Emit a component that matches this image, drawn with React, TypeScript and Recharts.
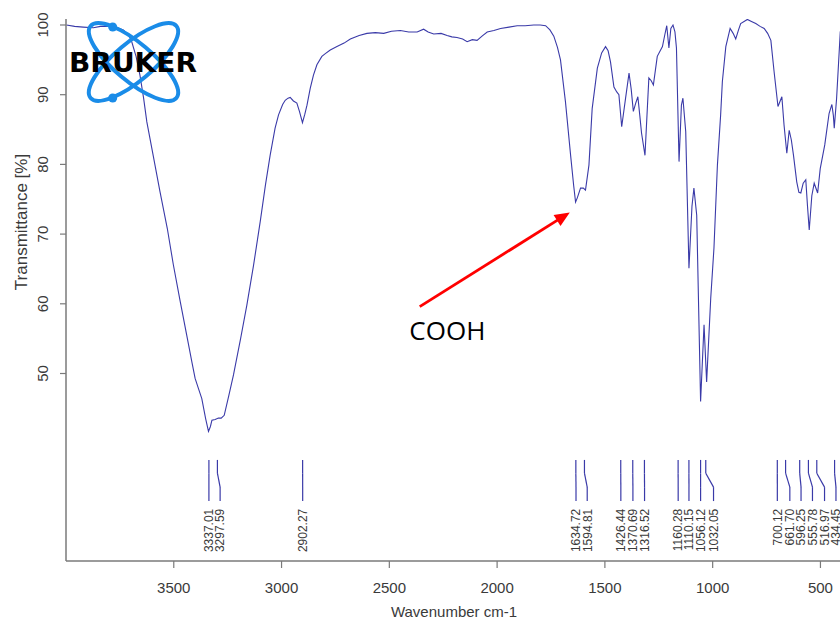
import React from 'react';
import { LineChart, Line, XAxis, YAxis, ReferenceLine, ReferenceDot } from 'recharts';

// spectrum, wavenumber (cm-1) descending
const wavenumbers = [
  3998, 3960, 3920, 3873, 3840, 3796, 3760, 3734, 3710, 3695, 3675, 3657, 3640, 3625, 3595, 3564,
  3530, 3502, 3470, 3440, 3415, 3401, 3385, 3370, 3352, 3339, 3330, 3323, 3308, 3293, 3280, 3266,
  3245, 3223, 3190, 3161, 3130, 3099, 3075, 3053, 3030, 3014, 2995, 2983, 2970, 2960, 2945, 2929,
  2917, 2903, 2892, 2882, 2867, 2852, 2836, 2813, 2797, 2774, 2743, 2710, 2681, 2640, 2604, 2565,
  2526, 2490, 2449, 2410, 2371, 2341, 2320, 2294, 2260, 2232, 2210, 2186, 2160, 2139, 2115, 2093,
  2070, 2046, 2015, 1984, 1945, 1907, 1870, 1830, 1800, 1775, 1755, 1737, 1720, 1706, 1683, 1659,
  1645, 1636, 1628, 1613, 1600, 1590, 1574, 1559, 1535, 1515, 1497, 1485, 1474, 1458, 1445, 1435,
  1422, 1404, 1388, 1378, 1368, 1357, 1347, 1338, 1330, 1314, 1296, 1285, 1275, 1257, 1233, 1222,
  1213, 1203, 1194, 1184, 1175, 1168, 1156, 1145, 1138, 1125, 1110, 1096, 1087, 1074, 1056, 1040,
  1028, 1009, 994, 978, 963, 955, 939, 919, 905, 893, 880, 870, 839, 820, 800, 780,
  761, 745, 730, 715, 697, 679, 669, 656, 645, 635, 625, 610, 600, 591, 580, 568,
  560, 552, 540, 529, 513, 501, 480, 460, 447, 440, 436, 425, 416, 408, 400,
];
const transmittance = [
  100.0, 99.8, 99.7, 99.6, 99.8, 99.8, 99.6, 99.3, 98.6, 97.6, 95.5, 92.8, 89.5, 86.1, 81.2, 76.1,
  70.8, 65.6, 60.3, 55.5, 51.5, 49.3, 47.8, 46.4, 43.5, 41.7, 42.4, 43.3, 43.4, 43.6, 43.6, 44.0,
  46.8, 49.8, 55.0, 59.8, 65.5, 71.8, 77.0, 81.3, 85.2, 87.1, 88.6, 89.2, 89.5, 89.6, 89.1, 88.8,
  87.6, 86.0, 87.2, 88.5, 90.9, 92.8, 94.3, 95.5, 95.9, 96.4, 96.9, 97.4, 98.0, 98.5, 98.8, 98.9,
  98.8, 99.1, 99.2, 99.0, 99.0, 99.4, 99.0, 98.7, 98.8, 98.5, 98.3, 98.2, 98.0, 97.6, 97.9, 97.8,
  98.4, 99.0, 99.2, 99.5, 99.7, 99.9, 99.9, 100.0, 100.0, 99.9, 99.3, 98.4, 96.8, 95.0, 89.0, 81.3,
  77.0, 74.6, 75.2, 76.6, 76.6, 76.3, 79.9, 88.0, 93.8, 96.0, 96.9, 96.3, 94.7, 91.1, 90.4, 90.0,
  85.4, 89.5, 93.1, 90.8, 87.6, 88.8, 89.7, 87.0, 84.5, 81.3, 92.4, 92.0, 91.4, 95.5, 96.9, 98.6,
  99.9, 96.7, 99.5, 100.0, 99.0, 96.7, 80.4, 88.5, 89.5, 84.7, 65.1, 74.0, 76.6, 72.7, 46.0, 57.0,
  48.8, 60.8, 68.0, 79.9, 87.1, 91.9, 96.9, 99.5, 98.8, 98.0, 99.3, 100.2, 100.8, 100.5, 100.2, 99.8,
  99.5, 98.8, 97.8, 93.3, 88.3, 89.7, 85.7, 81.6, 84.9, 83.5, 81.3, 77.5, 76.0, 75.9, 77.3, 77.8,
  74.0, 70.6, 75.5, 77.3, 75.9, 79.4, 82.8, 87.3, 88.6, 87.0, 85.2, 89.5, 94.5, 99.0, 99.8,
];

// picked peaks and where their labels sit (labels nudged apart where crowded)
const peaks = [
  3337.01, 3297.59, 2902.27, 1634.72, 1594.81, 1426.44, 1370.69, 1316.52, 1160.28,
  1110.15, 1056.12, 1032.05, 700.12, 661.7, 596.25, 555.78, 516.97, 434.45,
];
const peakLabelAt = [
  3337, 3285, 2902, 1634, 1582, 1426, 1370, 1316, 1160, 1110, 1056, 996, 700, 642, 590, 537, 481, 428,
];

const xTicks = [3500, 3000, 2500, 2000, 1500, 1000, 500];
const yTicks = [50, 60, 70, 80, 90, 100];

const spectrum = wavenumbers.map((w, i) => ({ w, t: transmittance[i] }));

const FONT = '"Liberation Sans", Arial, sans-serif';
const LINE = '#3a3aa8';
const FRAME = '#7a7a7a';
const TEXT = '#3a3a3a';

// peak marker levels (in % units)
const MARK_TOP = 37.6;
const MARK_K1 = 35.7;
const MARK_K2 = 33.7;
const MARK_BOT = 31.7;
const LABEL_TOP = 30.6;

const XTick = ({ x, y, payload }: any) => (
  <text x={x} y={y + 23} textAnchor="middle" fontFamily={FONT} fontSize={15} fill={TEXT}>
    {payload.value}
  </text>
);

const YTick = ({ x, y, payload }: any) => (
  <text
    transform={`translate(${x - 10},${y}) rotate(-90)`}
    textAnchor="middle"
    fontFamily={FONT}
    fontSize={15}
    fill={TEXT}
  >
    {payload.value}
  </text>
);

const PeakLabel = (text: string) => ({ cx, cy }: any) => (
  <text
    transform={`translate(${cx + 4.3},${cy}) rotate(-90)`}
    textAnchor="end"
    fontFamily={FONT}
    fontSize={12}
    fill={TEXT}
  >
    {text}
  </text>
);

const Arrow = (p: any) => {
  const { x1, y1, x2, y2 } = p;
  const dx = x2 - x1;
  const dy = y2 - y1;
  const len = Math.hypot(dx, dy) || 1;
  const ux = dx / len;
  const uy = dy / len;
  const L = 15;
  const W = 6.5;
  const bx = x2 - ux * L;
  const by = y2 - uy * L;
  return (
    <g>
      <line x1={x1} y1={y1} x2={bx + ux * 2} y2={by + uy * 2} stroke="#ff0000" strokeWidth={2.8} />
      <polygon
        points={`${x2},${y2} ${bx - uy * W},${by + ux * W} ${bx + uy * W},${by - ux * W}`}
        fill="#ff0000"
      />
    </g>
  );
};

const Logo = () => (
  <svg
    width={220}
    height={120}
    style={{ position: 'absolute', left: 0, top: 0, pointerEvents: 'none' }}
  >
    <g fill="none" stroke="#1a8ce8" strokeWidth={4}>
      <ellipse cx={133.5} cy={62} rx={56} ry={19} transform="rotate(40 133.5 62)" />
      <ellipse cx={133.5} cy={62} rx={56} ry={19} transform="rotate(-40 133.5 62)" />
    </g>
    <circle cx={112.7} cy={27} r={4.5} fill="#1a8ce8" />
    <circle cx={112.7} cy={98} r={4.5} fill="#1a8ce8" />
    <text
      x={69}
      y={72}
      textLength={128}
      lengthAdjust="spacingAndGlyphs"
      fontFamily='"DejaVu Sans", sans-serif'
      fontWeight={900}
      fontSize={26}
      fill="#000"
    >
      BRUKER
    </text>
  </svg>
);

export default function App() {
  return (
    <div
      style={{
        position: 'fixed',
        left: 0,
        top: 0,
        width: 840,
        height: 623,
        overflow: 'hidden',
        background: '#fff',
      }}
    >
      <LineChart
        width={868}
        height={623}
        data={spectrum}
        margin={{ top: 19, right: 26, bottom: 0, left: 16 }}
      >
        <XAxis
          dataKey="w"
          type="number"
          domain={[400, 4000]}
          reversed
          allowDataOverflow
          ticks={xTicks}
          tickSize={7}
          height={62}
          axisLine={{ stroke: FRAME, strokeWidth: 1.5 }}
          tickLine={{ stroke: FRAME, strokeWidth: 1.2 }}
          tick={<XTick />}
          label={{
            content: ({ viewBox }: any) => (
              <text
                x={viewBox.x + viewBox.width / 2}
                y={viewBox.y + 56}
                textAnchor="middle"
                fontFamily={FONT}
                fontSize={15}
                fill={TEXT}
              >
                Wavenumber cm-1
              </text>
            ),
          }}
        />
        <XAxis
          xAxisId="top"
          orientation="top"
          type="number"
          domain={[400, 4000]}
          reversed
          height={0}
          tick={false}
          tickLine={false}
          axisLine={{ stroke: FRAME, strokeWidth: 1.5 }}
        />
        <YAxis
          type="number"
          domain={[23.1, 100.86]}
          allowDataOverflow
          ticks={yTicks}
          tickSize={6}
          width={50}
          axisLine={{ stroke: FRAME, strokeWidth: 1.5 }}
          tickLine={{ stroke: FRAME, strokeWidth: 1.2 }}
          tick={<YTick />}
          label={{
            content: ({ viewBox }: any) => (
              <text
                transform={`translate(${viewBox.x + 11},${viewBox.y + 203}) rotate(-90)`}
                textAnchor="middle"
                fontFamily={FONT}
                fontSize={17}
                fill={TEXT}
              >
                Transmittance [%]
              </text>
            ),
          }}
        />
        <Line
          dataKey="t"
          type="linear"
          stroke={LINE}
          strokeWidth={1.1}
          dot={false}
          isAnimationActive={false}
        />
        {peaks.map((p, i) => {
          const lw = peakLabelAt[i];
          return (
            <React.Fragment key={p}>
              <ReferenceLine segment={[{ x: p, y: MARK_TOP }, { x: p, y: MARK_K1 }]} stroke={LINE} strokeWidth={1.2} />
              <ReferenceLine segment={[{ x: p, y: MARK_K1 }, { x: lw, y: MARK_K2 }]} stroke={LINE} strokeWidth={1.2} />
              <ReferenceLine segment={[{ x: lw, y: MARK_K2 }, { x: lw, y: MARK_BOT }]} stroke={LINE} strokeWidth={1.2} />
              <ReferenceDot x={lw} y={LABEL_TOP} r={0} shape={PeakLabel(p.toFixed(2))} />
            </React.Fragment>
          );
        })}
        <ReferenceLine
          segment={[{ x: 2359, y: 59.6 }, { x: 1663, y: 73.1 }]}
          shape={Arrow}
        />
        <ReferenceDot
          x={2231}
          y={56.2}
          r={0}
          shape={({ cx, cy }: any) => (
            <text x={cx} y={cy + 9.3} textAnchor="middle" fontFamily='"Open Sans", sans-serif' fontSize={26} fill="#000">
              COOH
            </text>
          )}
        />
      </LineChart>
      <Logo />
    </div>
  );
}
